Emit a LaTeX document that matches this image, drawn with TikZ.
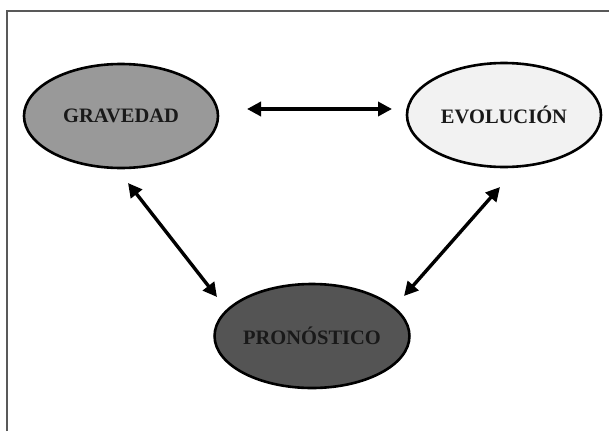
\documentclass[tikz,border=0pt]{standalone}
\usepackage{fontspec}
\setmainfont{Liberation Serif}
\usetikzlibrary{shapes.geometric,arrows.meta}
\tikzset{
  oval/.style={ellipse,draw=black,line width=2.6pt,minimum width=194pt,minimum height=104pt,inner sep=0pt,
    font=\fontsize{20.5}{20.5}\selectfont\bfseries,text=black!90},
  biarrow/.style={line width=3.4pt,{Triangle[length=14pt,width=14pt]}-{Triangle[length=14pt,width=14pt]}}
}
\begin{document}
\begin{tikzpicture}[x=1pt,y=-1pt]
\useasboundingbox (0,0) rectangle (609,431);
\draw[line width=1.5pt,draw=black!65] (7,431) -- (7,11) -- (609,11);
\node[oval,fill=black!40] (g) at (121,116) {GRAVEDAD};
\node[oval,fill=black!5] (e) at (504,115) {EVOLUCIÓN};
\node[oval,fill=black!67] (p) at (312,336) {PRONÓSTICO};
\coordinate (gr) at (247,109);
\coordinate (el) at (392,109);
\coordinate (gb) at (128,183);
\coordinate (pl) at (217,297);
\coordinate (eb) at (500,187);
\coordinate (pr) at (404,296);
\draw[biarrow] (gr) -- (el);
\draw[biarrow] (gb) -- (pl);
\draw[biarrow] (eb) -- (pr);
\end{tikzpicture}
\end{document}
